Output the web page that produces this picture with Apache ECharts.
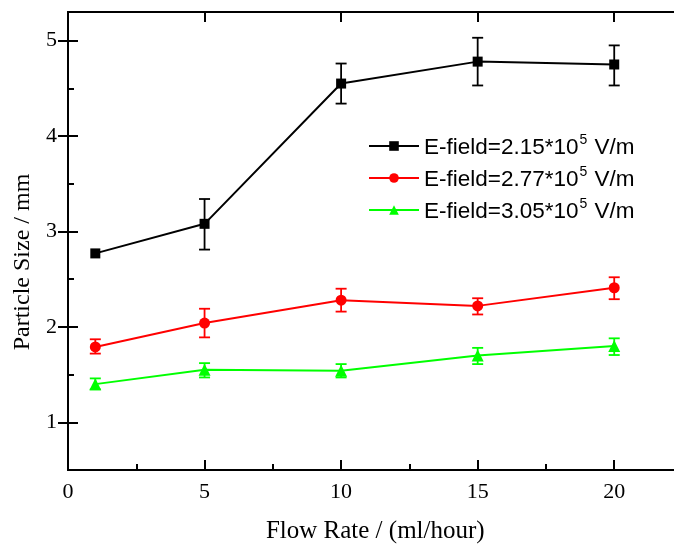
<!DOCTYPE html>
<html>
<head>
<meta charset="utf-8">
<script src="https://cdn.jsdelivr.net/npm/echarts@6/dist/echarts.min.js"></script>
<style>
html,body{margin:0;padding:0;background:#fff;}
#chart{width:674px;height:545px;}
</style>
</head>
<body>
<div id="chart"></div>
<script>
// ---- data ----
const flowRates = [1, 5, 10, 15, 20];
const fieldLabels = ['2.15', '2.77', '3.05'];

const black = [2.77, 3.08, 4.55, 4.78, 4.75];
const blackLow = [2.77, 2.81, 4.34, 4.53, 4.53];
const blackHigh = [2.77, 3.34, 4.76, 5.03, 4.95];

const red = [1.79, 2.04, 2.28, 2.22, 2.41];
const redLow = [1.72, 1.89, 2.16, 2.13, 2.29];
const redHigh = [1.87, 2.19, 2.40, 2.30, 2.52];

const green = [1.40, 1.55, 1.54, 1.70, 1.80];
const greenLow = [1.345, 1.47, 1.47, 1.61, 1.705];
const greenHigh = [1.46, 1.62, 1.61, 1.78, 1.88];

const xTicks = [0, 5, 10, 15, 20];
const xMinorTicks = [2.5, 7.5, 12.5, 17.5];
const yTicks = [1, 2, 3, 4, 5];
const yMinorTicks = [1.5, 2.5, 3.5, 4.5];

const xTitle = 'Flow Rate / (ml/hour)';
const yTitle = 'Particle Size / mm';

// ---- chart ----
const names = fieldLabels.map(f => 'E-field=' + f + '*10^5 V/m');
const colors = ['#000000', '#ff0000', '#00ff00'];
const symbols = ['rect', 'circle', 'triangle'];
const symbolSizes = [10, 11, 12];
const values = [black, red, green];
const lows = [blackLow, redLow, greenLow];
const highs = [blackHigh, redHigh, greenHigh];

const serif = 'Liberation Serif';
const axisLineStyle = {color: '#000', width: 2};

function errSeries(i) {
  const color = colors[i];
  return {
    type: 'custom',
    xAxisIndex: 0, yAxisIndex: 0,
    silent: true,
    z: 1,
    renderItem: function (params, api) {
      const xv = api.value(0), lo = api.value(1), hi = api.value(2);
      if (lo === hi) return null;
      const pLo = api.coord([xv, lo]);
      const pHi = api.coord([xv, hi]);
      const w = 5.5;
      const st = {stroke: color, lineWidth: 1.8};
      return {
        type: 'group',
        children: [
          {type: 'line', shape: {x1: pLo[0], y1: pLo[1], x2: pHi[0], y2: pHi[1]}, style: st},
          {type: 'line', shape: {x1: pLo[0] - w, y1: pLo[1], x2: pLo[0] + w, y2: pLo[1]}, style: st},
          {type: 'line', shape: {x1: pHi[0] - w, y1: pHi[1], x2: pHi[0] + w, y2: pHi[1]}, style: st}
        ]
      };
    },
    encode: {x: 0, y: [1, 2]},
    data: flowRates.map((x, k) => [x, lows[i][k], highs[i][k]])
  };
}

const lineSeries = values.map((vals, i) => ({
  type: 'line',
  name: names[i],
  xAxisIndex: 0, yAxisIndex: 0,
  data: flowRates.map((x, k) => [x, vals[k]]),
  symbol: symbols[i],
  symbolSize: symbolSizes[i],
  showAllSymbol: true,
  lineStyle: {color: colors[i], width: 2},
  itemStyle: {color: colors[i]},
  z: 3
}));

const option = {
  animation: false,
  backgroundColor: '#fff',
  grid: {left: 68, width: 614.5, top: 12, height: 458, containLabel: false, outerBoundsMode: 'none'},
  legend: {
    orient: 'vertical',
    left: 363, top: 128,
    itemWidth: 50, itemHeight: 12, itemGap: 4,
    data: names,
    selectedMode: false,
    formatter: function (name) {
      const i = names.indexOf(name);
      return '{m|E-field=' + fieldLabels[i] + '*10}{s|5}{m| V/m}';
    },
    textStyle: {
      color: '#000',
      rich: {
        m: {fontFamily: 'Liberation Sans', fontSize: 22.5, lineHeight: 26, verticalAlign: 'bottom', color: '#000'},
        s: {fontFamily: 'Liberation Sans', fontSize: 14, lineHeight: 14, verticalAlign: 'top', color: '#000', padding: [0, 1, 14, 1]}
      }
    }
  },
  xAxis: [
    {
      type: 'value', position: 'bottom', min: 0, max: 22.5,
      name: xTitle, nameLocation: 'middle', nameGap: 49,
      nameTextStyle: {fontFamily: serif, fontSize: 25, color: '#000'},
      axisLine: {show: true, lineStyle: axisLineStyle},
      axisTick: {show: true, inside: true, length: 10, lineStyle: {color: '#000', width: 2}, customValues: xTicks},
      axisLabel: {show: true, margin: 11, fontFamily: serif, fontSize: 22, color: '#000', customValues: xTicks},
      splitLine: {show: false}
    },
    {
      type: 'value', position: 'bottom', min: 0, max: 22.5,
      axisLine: {show: false},
      axisTick: {show: true, inside: true, length: 6, lineStyle: {color: '#000', width: 2}, customValues: xMinorTicks},
      axisLabel: {show: false},
      splitLine: {show: false}
    },
    {
      type: 'value', position: 'top', min: 0, max: 22.5,
      axisLine: {show: true, lineStyle: axisLineStyle},
      axisTick: {show: true, inside: true, length: 10, lineStyle: {color: '#000', width: 2}, customValues: xTicks},
      axisLabel: {show: false},
      splitLine: {show: false}
    }
  ],
  yAxis: [
    {
      type: 'value', position: 'left', min: 0.5, max: 5.3,
      name: yTitle, nameLocation: 'middle', nameGap: 33,
      nameTextStyle: {fontFamily: serif, fontSize: 24, color: '#000', padding: [0, 42, 0, 0]},
      axisLine: {show: true, lineStyle: axisLineStyle},
      axisTick: {show: true, inside: true, length: 10, lineStyle: {color: '#000', width: 2}, customValues: yTicks},
      axisLabel: {show: true, margin: 11, fontFamily: serif, fontSize: 22, color: '#000', customValues: yTicks},
      splitLine: {show: false}
    },
    {
      type: 'value', position: 'left', min: 0.5, max: 5.3,
      axisLine: {show: false},
      axisTick: {show: true, inside: true, length: 6, lineStyle: {color: '#000', width: 2}, customValues: yMinorTicks},
      axisLabel: {show: false},
      splitLine: {show: false}
    },
    {
      type: 'value', position: 'right', min: 0.5, max: 5.3,
      axisLine: {show: true, lineStyle: axisLineStyle},
      axisTick: {show: true, inside: true, length: 10, lineStyle: {color: '#000', width: 2}, customValues: yTicks},
      axisLabel: {show: false},
      splitLine: {show: false}
    }
  ],
  series: [errSeries(0), errSeries(1), errSeries(2)].concat(lineSeries)
};

const chart = echarts.init(document.getElementById('chart'), null, {renderer: 'canvas'});
chart.setOption(option);
</script>
</body>
</html>
